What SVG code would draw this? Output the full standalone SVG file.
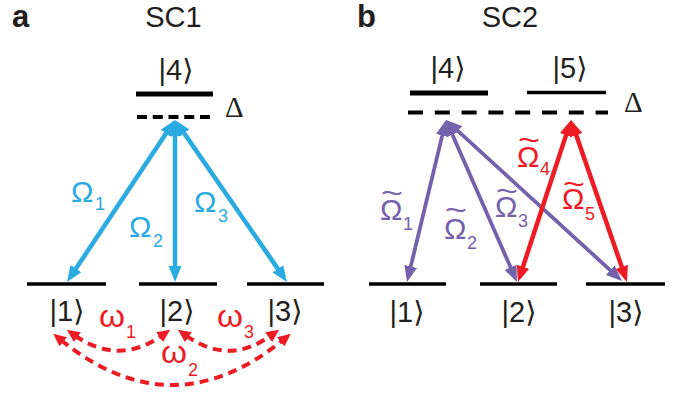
<svg xmlns="http://www.w3.org/2000/svg" width="688" height="397" viewBox="0 0 688 397">
<defs>
<style>
.t{font-family:"Liberation Sans","DejaVu Sans",sans-serif;fill:#231f20}
.pl{font-family:"Liberation Sans",sans-serif;font-weight:bold;font-size:31px;fill:#231f20}
.ttl{font-size:29px}
.ket{font-size:29px;text-anchor:middle}
.dl{font-family:"Liberation Serif",serif;font-size:29px;fill:#231f20}
.om{font-family:"Liberation Sans",sans-serif;font-size:30px}
.sub{font-size:18px}
.tl{font-size:30px}
.w{font-family:"Liberation Sans","DejaVu Sans",sans-serif;font-size:32px;fill:#ed1c24}
.blue{fill:#29abe2}
.pur{fill:#7461ac}
.red{fill:#ed1c24}
.lvl{stroke:#000;stroke-width:3.5;fill:none}
.lvlt{stroke:#000;stroke-width:5;fill:none}
.bl{stroke:#29abe2;stroke-width:4.5;fill:none;marker-start:url(#hb);marker-end:url(#hb)}
.pu{stroke:#7461ac;stroke-width:3.8;fill:none;marker-start:url(#hp);marker-end:url(#hp)}
.rd{stroke:#ed1c24;stroke-width:4.5;fill:none;marker-start:url(#hr);marker-end:url(#hr)}
.arc{stroke:#ed1c24;stroke-width:4;fill:none;stroke-dasharray:9 6;marker-start:url(#ha);marker-end:url(#ha)}
</style>
<marker id="hb" markerUnits="userSpaceOnUse" markerWidth="16" markerHeight="14" refX="4" refY="7" orient="auto-start-reverse"><path d="M0,0.5 L16,7 L0,13.5 z" fill="#29abe2"/></marker>
<marker id="hp" markerUnits="userSpaceOnUse" markerWidth="16" markerHeight="14" refX="4" refY="7" orient="auto-start-reverse"><path d="M0,0.5 L16,7 L0,13.5 z" fill="#7461ac"/></marker>
<marker id="hr" markerUnits="userSpaceOnUse" markerWidth="16" markerHeight="14" refX="4" refY="7" orient="auto-start-reverse"><path d="M0,0.5 L16,7 L0,13.5 z" fill="#ed1c24"/></marker>
<marker id="ha" markerUnits="userSpaceOnUse" markerWidth="13" markerHeight="12" refX="3" refY="6" orient="auto-start-reverse"><path d="M0,0 L13,6 L0,12 z" fill="#ed1c24"/></marker>
</defs>

<g id="titles">
<text class="pl" x="12" y="27">a</text>
<text class="t ttl" x="173.5" y="27" text-anchor="middle">SC1</text>
<text class="pl" x="357" y="27">b</text>
<text class="t ttl" x="510" y="27" text-anchor="middle">SC2</text>
</g>

<!-- Panel a nodes -->
<g id="a-level4">
<line class="lvlt" x1="136" y1="94" x2="213" y2="94"/>
<line class="lvl" x1="137" y1="117" x2="210" y2="117" style="stroke-width:4;stroke-dasharray:10 5.75"/>
<text class="t ket" x="176" y="80">|4⟩</text>
<text class="dl" x="225" y="117">Δ</text>
</g>
<g id="a-level1">
<line class="lvl" x1="27" y1="284" x2="106" y2="284"/>
<text class="t ket" x="67" y="321">|1⟩</text>
</g>
<g id="a-level2">
<line class="lvl" x1="139" y1="284" x2="217" y2="284"/>
<text class="t ket" x="177" y="321">|2⟩</text>
</g>
<g id="a-level3">
<line class="lvl" x1="247" y1="284" x2="324" y2="284"/>
<text class="t ket" x="285" y="321">|3⟩</text>
</g>

<!-- Panel b nodes -->
<g id="b-level4">
<line class="lvlt" x1="410" y1="93" x2="488" y2="93"/>
<text class="t ket" x="448" y="78">|4⟩</text>
</g>
<g id="b-level5">
<line class="lvl" x1="527" y1="92.5" x2="606" y2="92.5"/>
<text class="t ket" x="570" y="78">|5⟩</text>
</g>
<g id="b-detuning">
<line class="lvl" x1="408" y1="112.5" x2="608" y2="112.5" style="stroke-width:4;stroke-dasharray:15 11.8"/>
<text class="dl" x="624" y="112">Δ</text>
</g>
<g id="b-level1">
<line class="lvl" x1="369" y1="284" x2="446" y2="284"/>
<text class="t ket" x="407" y="322">|1⟩</text>
</g>
<g id="b-level2">
<line class="lvl" x1="480" y1="284" x2="557" y2="284"/>
<text class="t ket" x="519" y="322">|2⟩</text>
</g>
<g id="b-level3">
<line class="lvl" x1="586" y1="284" x2="665" y2="284"/>
<text class="t ket" x="626" y="322">|3⟩</text>
</g>

<g id="connectors">
<line class="bl" x1="168.34" y1="129.99" x2="73.66" y2="272.01"/>
<line class="bl" x1="175" y1="132" x2="175" y2="270"/>
<line class="bl" x1="181.83" y1="129.87" x2="280.17" y2="272.13"/>
<path class="arc" d="M75,335.5 Q118.5,366 162,335.5"/>
<path class="arc" d="M186,335.5 Q228.5,366 271,335.5"/>
<path class="arc" d="M61,340 Q172,430 283,340"/>
<line class="pu" x1="443.19" y1="131.67" x2="409.81" y2="270.33"/>
<line class="pu" x1="450.82" y1="130.99" x2="512.18" y2="271.01"/>
<line class="pu" x1="454.85" y1="128.1" x2="613.15" y2="272.9"/>
<line class="rd" x1="567.27" y1="131.4" x2="521.73" y2="270.6"/>
<line class="rd" x1="574.92" y1="131.34" x2="623.08" y2="270.66"/>
</g>

<g id="labels">
<text class="om blue"><tspan x="71" y="202">Ω</tspan><tspan class="sub" x="95" y="210">1</tspan></text>
<text class="om blue"><tspan x="129" y="237">Ω</tspan><tspan class="sub" x="153" y="247">2</tspan></text>
<text class="om blue"><tspan x="194" y="212">Ω</tspan><tspan class="sub" x="218" y="222">3</tspan></text>

<text class="w"><tspan x="99" y="327" textLength="26" lengthAdjust="spacingAndGlyphs">ω</tspan><tspan class="sub" x="126" y="338">1</tspan></text>
<text class="w"><tspan x="217" y="327" textLength="26" lengthAdjust="spacingAndGlyphs">ω</tspan><tspan class="sub" x="244" y="338">3</tspan></text>
<text class="w"><tspan x="161" y="363" textLength="26" lengthAdjust="spacingAndGlyphs">ω</tspan><tspan class="sub" x="188" y="376">2</tspan></text>

<text class="om pur"><tspan class="tl" x="381" y="202.5" textLength="22" lengthAdjust="spacingAndGlyphs">~</tspan><tspan x="380" y="220">Ω</tspan><tspan class="sub" x="403" y="230">1</tspan></text>
<text class="om pur"><tspan class="tl" x="445" y="219.5" textLength="22" lengthAdjust="spacingAndGlyphs">~</tspan><tspan x="444" y="239">Ω</tspan><tspan class="sub" x="467" y="249">2</tspan></text>
<text class="om pur"><tspan class="tl" x="496" y="200.5" textLength="22" lengthAdjust="spacingAndGlyphs">~</tspan><tspan x="495" y="217">Ω</tspan><tspan class="sub" x="518" y="227">3</tspan></text>
<text class="om red"><tspan class="tl" x="518" y="149.5" textLength="22" lengthAdjust="spacingAndGlyphs">~</tspan><tspan x="517" y="167">Ω</tspan><tspan class="sub" x="540" y="175">4</tspan></text>
<text class="om red"><tspan class="tl" x="563" y="193.5" textLength="22" lengthAdjust="spacingAndGlyphs">~</tspan><tspan x="562" y="209">Ω</tspan><tspan class="sub" x="585" y="220">5</tspan></text>
</g>
</svg>
